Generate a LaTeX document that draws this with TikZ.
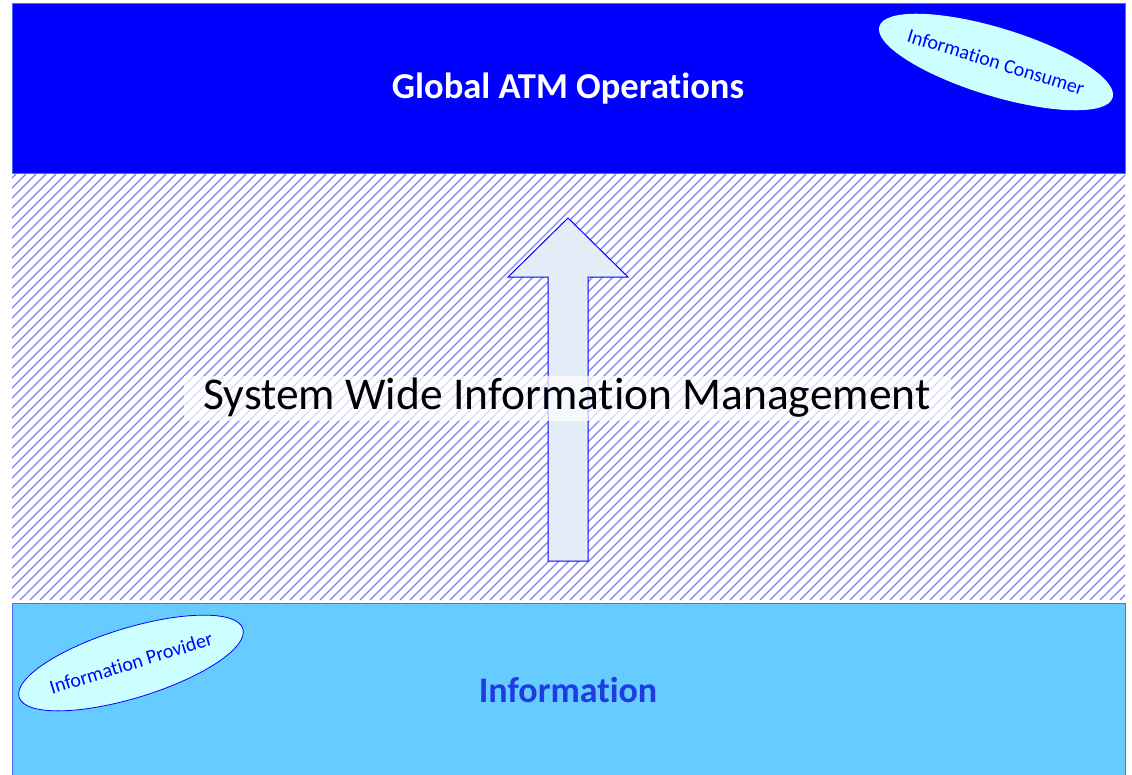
\documentclass[tikz,border=0pt]{standalone}
\usepackage{fontspec}
\setmainfont[Ligatures=NoCommon]{Carlito}
\usetikzlibrary{shapes.geometric}
\definecolor{opsblue}{RGB}{0,0,255}
\definecolor{infofill}{RGB}{102,204,255}
\definecolor{infoline}{RGB}{77,107,255}
\definecolor{infotext}{RGB}{30,60,225}
\definecolor{roleFill}{RGB}{204,255,255}
\definecolor{hatchblue}{RGB}{128,128,255}
\definecolor{arrowfill}{RGB}{228,236,248}
\tikzset{
	layer/.style={anchor=north west,inner sep=0pt,outer sep=0pt},
	role/.style={inner sep=0pt,text=opsblue,font=\fontsize{20}{24}\selectfont},
}
\begin{document}
\begin{tikzpicture}[x=1pt,y=-1pt]
	\useasboundingbox (0,0) rectangle (1132,774);
	% oben
	\node[layer,fill=opsblue,draw=infoline,line width=0.8,minimum width=1113,minimum height=170] (ops) at (12,3) {};
	\node[text=white,font=\fontsize{36.5}{40}\selectfont\bfseries] (opstext) at (568,89) {Global ATM Operations};
	\coordinate (consumer) at (996,62);
	\fill[roleFill,rotate around={-17:(consumer)}] (consumer) ellipse (122 and 34);
	\node[role,rotate=-17] (consumertext) at (consumer) {Information Consumer};
	% Schraffur
	\begin{scope}
		\clip (12,174) rectangle (1125,600);
		\foreach \i in {-430,-420,...,1130}
			\draw[hatchblue,line width=1.1] (\i,600) -- ++(426,-426);
	\end{scope}
	% Pfeil
	\draw[opsblue,line width=1,fill=arrowfill] (548,561) -- (548,277) -- (508,277) -- (568,218) -- (628,277) -- (588,277) -- (588,561) -- cycle;
	\node[fill=white,fill opacity=0.7,text opacity=1,minimum width=767,minimum height=45,inner sep=0pt,font=\fontsize{45.5}{50}\selectfont] (swim) at (567,398) {System Wide Information Management};
	% unten
	\node[layer,fill=infofill,draw=infoline,line width=1,minimum width=1113,minimum height=175] (info) at (12,603) {};
	\node[text=infotext,font=\fontsize{36}{40}\selectfont\bfseries] (infotext) at (568,690) {Information};
	\coordinate (provider) at (131,663);
	\draw[opsblue,line width=0.8,fill=roleFill,rotate around={17:(provider)}] (provider) ellipse (117 and 35);
	\node[role,rotate=17] (providertext) at (provider) {Information Provider};
\end{tikzpicture}
\end{document}
